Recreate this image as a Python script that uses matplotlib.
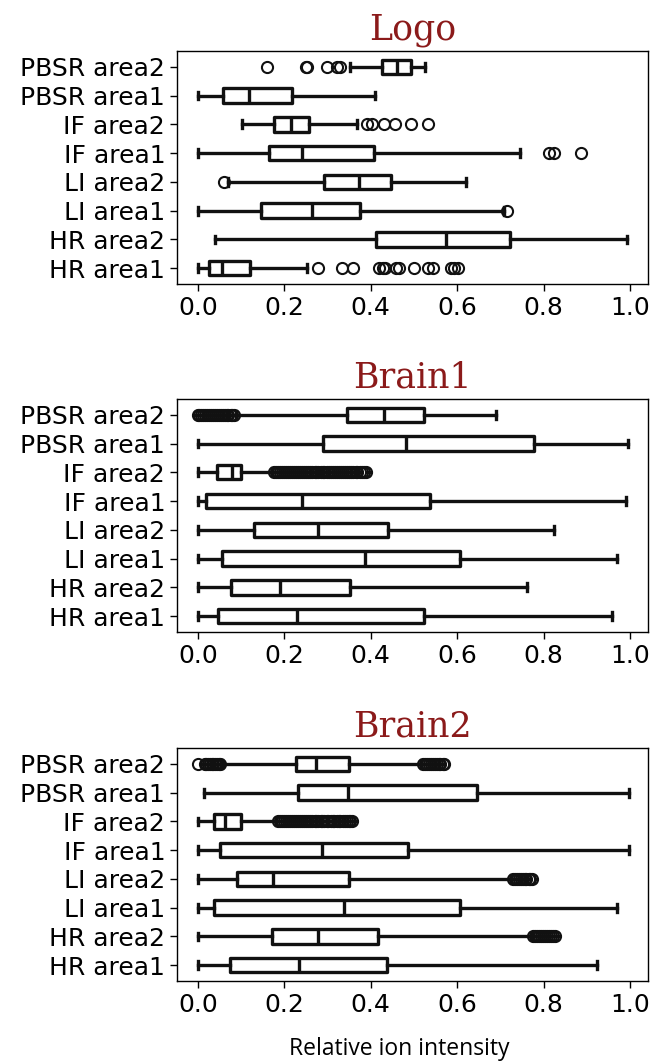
import matplotlib
matplotlib.use("Agg")
from matplotlib import pyplot as plt

labels = ["HR area1", "HR area2", "LI area1", "LI area2",
          "IF area1", "IF area2", "PBSR area1", "PBSR area2"]
titles = ["Logo", "Brain1", "Brain2"]

# Logo
logo_whislo = [0.0, 0.039, 0.0, 0.07, 0.0, 0.102, 0.0, 0.351]
logo_q1 = [0.027, 0.413, 0.147, 0.292, 0.164, 0.177, 0.058, 0.427]
logo_med = [0.056, 0.573, 0.264, 0.372, 0.241, 0.216, 0.118, 0.46]
logo_q3 = [0.121, 0.722, 0.375, 0.446, 0.408, 0.257, 0.219, 0.494]
logo_whishi = [0.252, 0.992, 0.708, 0.621, 0.746, 0.369, 0.41, 0.525]
logo_fliers = [
    [0.278, 0.334, 0.358, 0.42, 0.428, 0.434, 0.458, 0.466, 0.499, 0.532, 0.545, 0.585, 0.593, 0.602],
    [],
    [0.714],
    [0.06],
    [0.811, 0.823, 0.887],
    [0.391, 0.404, 0.43, 0.455, 0.494, 0.532],
    [],
    [0.161, 0.25, 0.252, 0.298, 0.322, 0.329],
]

# Brain1
brain1_whislo = [0.0, 0.0, 0.0, 0.0, 0.0, 0.0, 0.0, 0.088]
brain1_q1 = [0.046, 0.077, 0.056, 0.13, 0.02, 0.044, 0.29, 0.344]
brain1_med = [0.229, 0.19, 0.387, 0.279, 0.241, 0.078, 0.482, 0.431]
brain1_q3 = [0.522, 0.352, 0.606, 0.44, 0.537, 0.1, 0.777, 0.522]
brain1_whishi = [0.957, 0.762, 0.969, 0.824, 0.99, 0.171, 0.995, 0.69]
brain1_fliers = [
    [], [], [], [], [],
    [0.176, 0.18, 0.185, 0.19, 0.194, 0.199, 0.204, 0.208, 0.213, 0.218, 0.222, 0.227,
     0.232, 0.236, 0.241, 0.246, 0.251, 0.255, 0.26, 0.265, 0.27, 0.274, 0.279, 0.284,
     0.289, 0.293, 0.298, 0.303, 0.308, 0.312, 0.317, 0.322, 0.327, 0.331, 0.336, 0.341,
     0.346, 0.35, 0.355, 0.36, 0.365, 0.369, 0.374, 0.379, 0.384, 0.388],
    [],
    [0.0, 0.004, 0.008, 0.013, 0.017, 0.022, 0.026, 0.031, 0.035, 0.04, 0.044, 0.049,
     0.053, 0.058, 0.062, 0.067, 0.071, 0.076, 0.08, 0.083],
]

# Brain2
brain2_whislo = [0.0, 0.0, 0.0, 0.0, 0.0, 0.0, 0.015, 0.055]
brain2_q1 = [0.075, 0.171, 0.037, 0.091, 0.051, 0.038, 0.231, 0.226]
brain2_med = [0.234, 0.279, 0.339, 0.174, 0.288, 0.063, 0.347, 0.274]
brain2_q3 = [0.438, 0.417, 0.606, 0.349, 0.487, 0.1, 0.646, 0.349]
brain2_whishi = [0.924, 0.772, 0.969, 0.725, 0.997, 0.18, 0.997, 0.515]
brain2_fliers = [
    [],
    [0.776, 0.78, 0.785, 0.789, 0.794, 0.798, 0.803, 0.807, 0.812, 0.816, 0.821, 0.825],
    [],
    [0.729, 0.733, 0.738, 0.742, 0.747, 0.751, 0.756, 0.76, 0.765, 0.769, 0.773],
    [],
    [0.186, 0.19, 0.195, 0.2, 0.204, 0.209, 0.214, 0.218, 0.223, 0.228, 0.232, 0.237,
     0.242, 0.246, 0.251, 0.256, 0.26, 0.265, 0.27, 0.274, 0.279, 0.284, 0.288, 0.293,
     0.298, 0.302, 0.307, 0.312, 0.316, 0.321, 0.326, 0.33, 0.335, 0.34, 0.344, 0.349,
     0.353, 0.357],
    [],
    [0.0, 0.016, 0.02, 0.024, 0.028, 0.032, 0.036, 0.04, 0.044, 0.048, 0.051,
     0.521, 0.525, 0.53, 0.534, 0.539, 0.543, 0.548, 0.552, 0.557, 0.561, 0.566, 0.57],
]

panels = [
    (logo_whislo, logo_q1, logo_med, logo_q3, logo_whishi, logo_fliers),
    (brain1_whislo, brain1_q1, brain1_med, brain1_q3, brain1_whishi, brain1_fliers),
    (brain2_whislo, brain2_q1, brain2_med, brain2_q3, brain2_whishi, brain2_fliers),
]

def make_stats(whislo, q1, med, q3, whishi, fliers):
    stats = []
    for i in range(len(labels)):
        stats.append({
            'label': labels[i], 'whislo': whislo[i], 'q1': q1[i], 'med': med[i],
            'q3': q3[i], 'whishi': whishi[i], 'fliers': fliers[i],
        })
    return stats

def draw_panel(ax, title, stats):
    lw = 2.4
    ax.bxp(stats, vert=False, widths=0.5, capwidths=0.27, patch_artist=True,
           boxprops=dict(facecolor='white', edgecolor='#111111', linewidth=lw, joinstyle='round'),
           whiskerprops=dict(color='#111111', linewidth=lw),
           capprops=dict(color='#111111', linewidth=lw),
           medianprops=dict(color='#111111', linewidth=lw),
           flierprops=dict(marker='o', markersize=8, markerfacecolor='none',
                           markeredgecolor='#111111', markeredgewidth=1.5))
    ax.set_xlim(-0.048, 1.041)
    ax.set_ylim(0.45, 8.55)
    ax.set_xticks([0.0, 0.2, 0.4, 0.6, 0.8, 1.0])
    ax.set_xticklabels(['0.0', '0.2', '0.4', '0.6', '0.8', '1.0'])
    ax.tick_params(labelsize=18, length=5, width=1)
    ax.set_title(title, fontsize=25, color='#8b1a1a', family='DejaVu Serif', pad=8)
    for s in ax.spines.values():
        s.set_linewidth(1.0)

fig = plt.figure(figsize=(6.59, 10.63), dpi=100)
bottoms = [0.7328, 0.4055, 0.0771]
for k in range(3):
    ax = fig.add_axes([0.2686, bottoms[k], 0.7147, 0.2192])
    draw_panel(ax, titles[k], make_stats(*panels[k]))

fig.text(0.6055, 0.0132, 'Relative ion intensity', ha='center', va='center',
         fontsize=16.5, family='Open Sans')

fig.savefig('out.png', dpi=100)
